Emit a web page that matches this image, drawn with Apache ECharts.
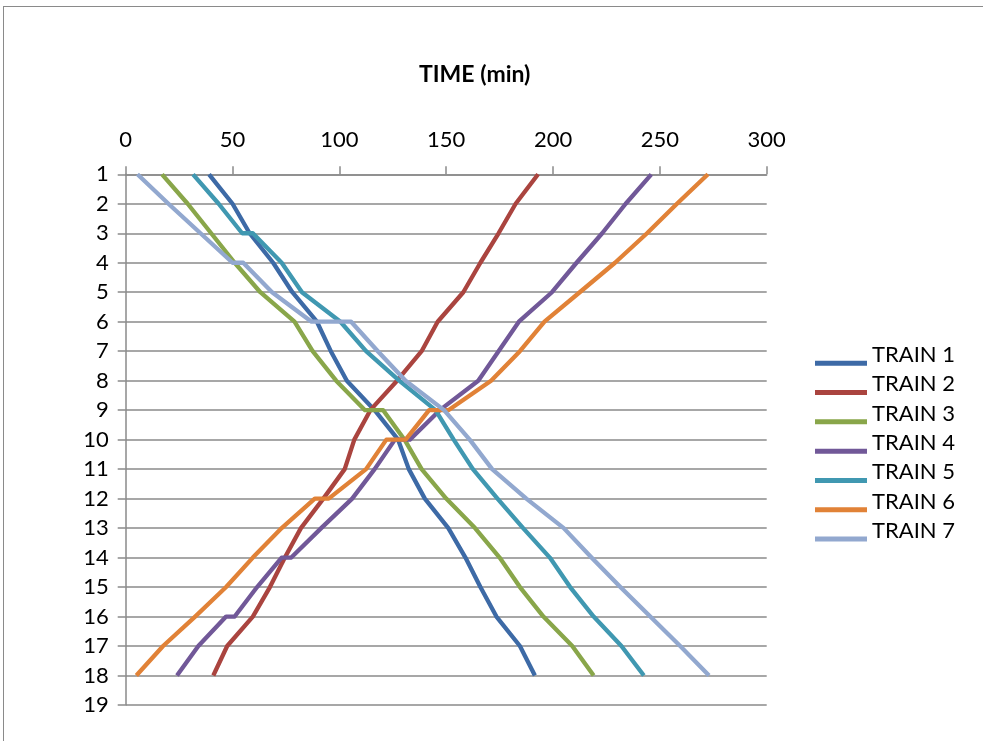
<!DOCTYPE html>
<html>
<head>
<meta charset="utf-8">
<script src="https://cdn.jsdelivr.net/npm/echarts@6/dist/echarts.min.js"></script>
<style>
html,body{margin:0;padding:0;background:#fff;overflow:hidden;}
#frame{position:absolute;left:3px;top:6px;width:1000px;height:760px;border:1px solid #8a8a8a;box-sizing:border-box;}
#chart{position:absolute;left:0;top:0;width:983px;height:741px;}
</style>
</head>
<body>
<div id="frame"></div>
<div id="chart"></div>
<script>
// [time (min), station] pairs, in travel order
const train1 = [[39,1],[50,2],[58,3],[69,4],[78,5],[89.5,6],[96,7],[103.5,8],[116.5,9],[127.5,10],[132.5,11],[140,12],[151,13],[159,14],[166,15],[173.5,16],[184.5,17],[191.5,18]];
const train2 = [[41,18],[47.5,17],[59.5,16],[67.5,15],[74.5,14],[82,13],[92.5,12],[102.5,11],[107,10],[114.5,9],[127,8],[138.5,7],[146,6],[158,5],[166,4],[174.5,3],[182.5,2],[193,1]];
const train3 = [[17,1],[29,2],[40,3],[51,4],[63,5],[79,6],[87.5,7],[98.5,8],[112,9],[120.5,9],[130.5,10],[138.5,11],[150,12],[163.5,13],[175,14],[184.5,15],[195.5,16],[209,17],[219,18]];
const train4 = [[24,18],[34,17],[47,16],[51,16],[61.5,15],[73,14],[77.5,14],[91.5,13],[106,12],[116.5,11],[126,10],[133,10],[147,9],[165,8],[174.5,7],[184,6],[199.5,5],[211,4],[223,3],[234,2],[246,1]];
const train5 = [[31.5,1],[43.5,2],[54.5,3],[59.5,3],[73,4],[82.5,5],[100.5,6],[112.5,7],[128,8],[145,9],[153.5,10],[162.5,11],[174,12],[186,13],[198.5,14],[208,15],[219,16],[232,17],[242.5,18]];
const train6 = [[5,18],[17.5,17],[32.5,16],[47,15],[59.5,14],[73,13],[88.5,12],[95,12],[112.5,11],[122,10],[131,10],[142,9],[151,9],[171,8],[184.5,7],[196,6],[212.5,5],[229,4],[244,3],[258,2],[272.5,1]];
const train7 = [[5.5,1],[20,2],[35,3],[50,4],[55,4],[68.5,5],[87,6],[105.5,6],[118,7],[131,8],[149,9],[161,10],[171.5,11],[187.5,12],[205,13],[218,14],[231.5,15],[245.5,16],[259.5,17],[273,18]];

const seriesNames = ['TRAIN 1','TRAIN 2','TRAIN 3','TRAIN 4','TRAIN 5','TRAIN 6','TRAIN 7'];
const seriesData = [train1,train2,train3,train4,train5,train6,train7];
const colors = ['#3D6AA6','#AA443F','#89A64A','#715898','#4098B1','#E18237','#92A8CF'];
const titleText = 'TIME (min)';

const font = 'Lato, "Liberation Sans", sans-serif';
const legendIcon = 'path://M0,0L0.01,0L0.01,0.01Z M0,16.5L52,16.5L52,21.5L0,21.5Z';
const chart = echarts.init(document.getElementById('chart'), null, {renderer:'canvas'});
chart.setOption({
  animation:false,
  color: colors,
  title:{
    text:titleText, left:414, top:58,
    textStyle:{fontFamily:font, fontSize:23, fontWeight:'bold', color:'#000'}
  },
  legend:{
    orient:'vertical', left:810, top:339,
    itemWidth:52, itemHeight:22, itemGap:7.3,
    icon:legendIcon,
    textStyle:{fontFamily:font, fontSize:22, color:'#000'},
    data:seriesNames
  },
  grid:{left:125.7, right:216.3, top:174.3, bottom:36, containLabel:false},
  xAxis:{
    type:'value', position:'top', min:0, max:300, interval:50,
    axisLine:{show:true, lineStyle:{color:'#8a8a8a', width:1.5}},
    axisTick:{show:true, inside:false, length:8, lineStyle:{color:'#8a8a8a', width:1.5}},
    axisLabel:{fontFamily:font, fontSize:22, color:'#000', margin:23},
    splitLine:{show:false}
  },
  yAxis:{
    type:'value', inverse:true, min:1, max:19, interval:1,
    axisLine:{show:true, lineStyle:{color:'#8a8a8a', width:1.5}},
    axisTick:{show:true, inside:false, length:8, lineStyle:{color:'#8a8a8a', width:1.5}},
    axisLabel:{fontFamily:font, fontSize:22, color:'#000', margin:17},
    splitLine:{show:true, lineStyle:{color:'#8a8a8a', width:1.6}}
  },
  series: seriesNames.map((n,i)=>({
    name:n, type:'line', data:seriesData[i], showSymbol:false, symbol:'none',
    lineStyle:{width:4.3, color:colors[i], join:'round'},
    itemStyle:{color:colors[i]}
  }))
});
</script>
</body>
</html>
